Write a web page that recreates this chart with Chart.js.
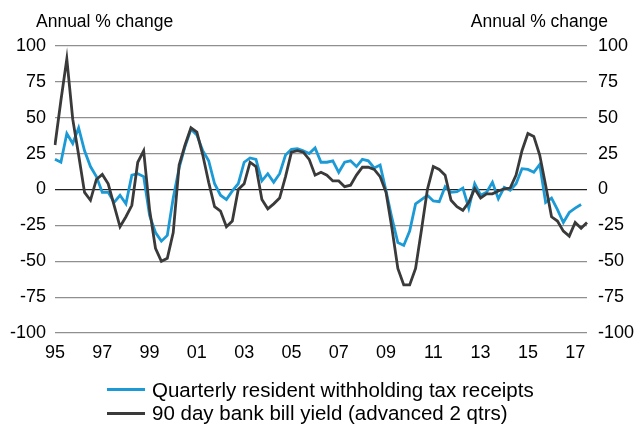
<!DOCTYPE html>
<html>
<head>
<meta charset="utf-8">
<script src="https://cdn.jsdelivr.net/npm/chart.js@4"></script>
<style>
    html, body { margin: 0; padding: 0; background: #fff; }
    #wrap { position: relative; width: 640px; height: 428px; }
    #legend {
        position: absolute; left: 107px; top: 378px;
        font-family: 'Liberation Sans', Arial, sans-serif; font-size: 20.5px; color: #000;
    }
    #legend .item { display: flex; align-items: center; height: 23.5px; white-space: nowrap; }
    #legend .swatch { width: 38px; height: 3px; margin-right: 7px; }
</style>
</head>
<body>
<div id="wrap">
    <canvas id="chart" width="640" height="428"></canvas>
    <div id="legend"></div>
</div>
<script>
// Quarterly, 1995Q1 .. 2017Q3
var startYear = 1995;
var quarterCount = 91;

var seriesNames = [
    'Quarterly resident withholding tax receipts',
    '90 day bank bill yield (advanced 2 qtrs)'
];

// annual % change, withholding tax receipts (ends 2017Q2)
var taxReceipts = [
    21, 19, 39, 32, 43, 27, 16, 9, -2, -2,
    -9, -4, -10, 10, 11, 9, -18, -30, -36, -32,
    -6, 15, 30, 42, 38, 27, 20, 4, -4, -7,
    -1, 4, 19, 22, 21, 6, 11, 5, 11, 24,
    28, 28.5, 27, 25, 29, 19, 19, 20, 12, 19,
    20, 16, 21, 20, 15, 17, -1, -20, -37, -39,
    -29, -10, -7, -4, -8, -8.5, 2, -2, -1.5, 1,
    -13, 4, -4, -2, 5, -6.5, 1.5, -0.5, 4, 14.5,
    14, 12, 17.5, -9, -6, -14, -23, -16, -13, -10.5
];

// annual % change, 90 day bill yield shifted forward two quarters
var billYield = [
    31, 62, 91, 49, 24, -2, -7.5, 7, 10.5, 4,
    -11, -26, -19, -11, 19, 27, -14, -41, -50, -48,
    -30, 17, 31, 43, 40, 24, 5, -12, -15, -26,
    -22, 0, 4, 19, 16, -7, -13.5, -10, -6, 9,
    26, 27, 26, 21, 10, 12, 10, 6, 6, 2,
    3, 10, 15.5, 15.5, 14, 9, -2, -27, -55, -66.5,
    -66.5, -55, -28, 0, 16, 14, 10, -7.5, -12, -14.5,
    -9, 0.5, -6, -3, -3, -1, 0.5, 1, 10, 27,
    39, 37, 24, 3, -19, -22, -29, -32.5, -23, -27,
    -23
];

var yTicks = [-100, -75, -50, -25, 0, 25, 50, 75, 100];
var axisTitle = 'Annual % change';

var seriesColors = ['#1b9ad6', '#3a3a3a'];
var fontFamily = "'Liberation Sans', Arial, sans-serif";

var quarterLabels = [];
for (var i = 0; i < quarterCount; i++) {
    quarterLabels.push((startYear + Math.floor(i / 4)) + 'Q' + (i % 4 + 1));
}

// "Annual % change" over each value axis
var axisTitles = {
    id: 'axisTitles',
    afterDraw: function(chart) {
        var ctx = chart.ctx;
        ctx.save();
        ctx.font = '17.5px ' + fontFamily;
        ctx.fillStyle = '#000';
        ctx.textBaseline = 'alphabetic';
        ctx.textAlign = 'left';
        ctx.fillText(axisTitle, 36, 27);
        ctx.textAlign = 'right';
        ctx.fillText(axisTitle, 608, 27);
        ctx.restore();
    }
};

var tickFont = { family: fontFamily, size: 18 };

var yAxisBase = function(position) {
    return {
        type: 'linear',
        position: position,
        min: yTicks[0],
        max: yTicks[yTicks.length - 1],
        border: { display: false },
        afterBuildTicks: function(scale) {
            scale.ticks = yTicks.map(function(v) { return { value: v }; });
        },
        ticks: {
            color: '#000',
            font: tickFont,
            padding: 9
        }
    };
};

var yLeft = yAxisBase('left');
yLeft.grid = {
    drawTicks: false,
    lineWidth: 1.2,
    color: function(c) { return c.tick && c.tick.value === 0 ? '#222' : '#8f8f8f'; }
};
yLeft.afterFit = function(scale) { scale.width = 55; };

var yRight = yAxisBase('right');
yRight.grid = { display: false, drawTicks: false };
yRight.ticks.padding = 11;
yRight.afterFit = function(scale) { scale.width = 53; };

new Chart(document.getElementById('chart'), {
    type: 'line',
    data: {
        labels: quarterLabels,
        datasets: [{
            label: seriesNames[0],
            data: taxReceipts,
            borderColor: seriesColors[0],
            borderWidth: 2.8,
            pointRadius: 0,
            tension: 0,
            order: 1,
            yAxisID: 'y'
        }, {
            label: seriesNames[1],
            data: billYield,
            borderColor: seriesColors[1],
            borderWidth: 2.8,
            pointRadius: 0,
            tension: 0,
            order: 0,
            yAxisID: 'y'
        }]
    },
    options: {
        responsive: false,
        animation: false,
        layout: { padding: { top: 46, left: 0, right: 0, bottom: 0 } },
        plugins: {
            legend: { display: false },
            tooltip: { enabled: false }
        },
        scales: {
            x: {
                type: 'category',
                offset: false,
                grid: { display: false, drawTicks: false },
                border: { display: false },
                afterFit: function(scale) { scale.height = 95; },
                ticks: {
                    color: '#000',
                    font: tickFont,
                    padding: 9,
                    autoSkip: false,
                    maxRotation: 0,
                    callback: function(value, index) {
                        if (index % 8 !== 0) return null;
                        return quarterLabels[index].slice(2, 4);
                    }
                }
            },
            y: yLeft,
            y2: yRight
        }
    },
    plugins: [axisTitles]
});

// legend rows under the chart
var legendEl = document.getElementById('legend');
seriesNames.forEach(function(name, i) {
    var row = document.createElement('div');
    row.className = 'item';
    var sw = document.createElement('span');
    sw.className = 'swatch';
    sw.style.background = seriesColors[i];
    var txt = document.createElement('span');
    txt.textContent = name;
    row.appendChild(sw);
    row.appendChild(txt);
    legendEl.appendChild(row);
});
</script>
</body>
</html>
